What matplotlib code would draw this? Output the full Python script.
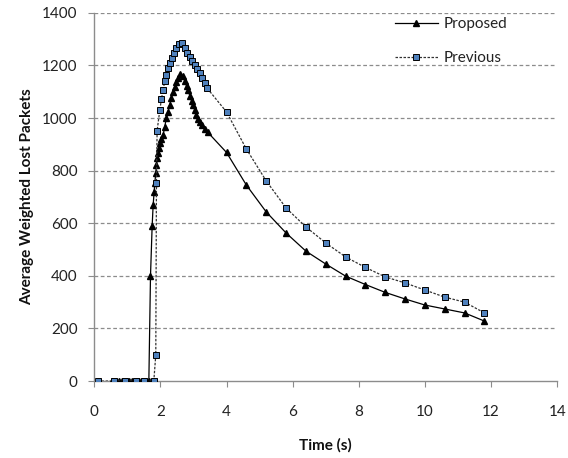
import matplotlib
matplotlib.use("Agg")
import matplotlib.pyplot as plt

plt.rcParams['font.family'] = ['Lato', 'DejaVu Sans']

# Proposed scheme
prop_x = [0.55, 0.65, 0.75, 0.85, 0.95, 1.05, 1.15, 1.25, 1.35, 1.45, 1.55, 1.65,
          1.70, 1.75, 1.78, 1.81, 1.83, 1.86, 1.88, 1.91, 1.93, 1.96, 2.00, 2.03,
          2.08, 2.13, 2.18, 2.23, 2.28, 2.33, 2.38, 2.43, 2.48, 2.53, 2.60, 2.68,
          2.73, 2.79, 2.83, 2.89, 2.94, 2.98, 3.04, 3.09, 3.14, 3.19, 3.26, 3.34,
          3.43, 4.0, 4.6, 5.2, 5.8, 6.4, 7.0, 7.6, 8.2, 8.8, 9.4, 10.0, 10.6, 11.2, 11.8]
prop_y = [0, 0, 0, 0, 0, 0, 0, 0, 0, 0, 0, 0,
          400, 590, 669, 719, 753, 791, 822, 848, 867, 886, 905, 920,
          935, 966, 1000, 1023, 1050, 1076, 1099, 1118, 1137, 1152, 1166, 1160,
          1142, 1122, 1105, 1085, 1065, 1048, 1030, 1013, 998, 985, 972, 960,
          946, 869, 745, 643, 563, 494, 445, 399, 367, 337, 312, 289, 274, 259, 228]

# Previous scheme
prev_x = [0.1, 0.59, 0.92, 1.25, 1.5, 1.8, 1.86, 1.88, 1.90, 1.98, 2.03, 2.08,
          2.13, 2.18, 2.23, 2.28, 2.35, 2.40, 2.48, 2.56, 2.65, 2.73, 2.80, 2.89,
          2.97, 3.04, 3.12, 3.19, 3.27, 3.34, 3.41, 4.0, 4.6, 5.2, 5.8, 6.4, 7.0,
          7.6, 8.2, 8.8, 9.4, 10.0, 10.6, 11.2, 11.8]
prev_y = [0, 0, 0, 0, 0, 0, 100, 754, 952, 1029, 1071, 1107,
          1139, 1164, 1190, 1209, 1228, 1247, 1266, 1281, 1285, 1266, 1248, 1233,
          1218, 1202, 1186, 1171, 1152, 1133, 1114, 1023, 882, 761, 658, 586, 525,
          472, 432, 396, 373, 346, 319, 300, 259]

x_ticks = [0, 2, 4, 6, 8, 10, 12, 14]
y_ticks = [0, 200, 400, 600, 800, 1000, 1200, 1400]

fig = plt.figure(figsize=(5.68, 4.58), dpi=100)
ax = fig.add_axes([0.166, 0.168, 0.815, 0.804])

ax.plot(prop_x, prop_y, color='black', lw=0.9, marker='^', ms=5,
        mfc='black', mec='black', label='Proposed', zorder=3)
ax.plot(prev_x, prev_y, color='#333333', lw=0.9, ls=(0, (2, 1.2)), marker='s', ms=4,
        mfc='#4F81BD', mec='black', mew=0.7, label='Previous', zorder=4)

ax.set_xlim(0, 14)
ax.set_ylim(0, 1400)
ax.set_xticks(x_ticks)
ax.set_yticks(y_ticks)
ax.set_xticklabels([str(t) for t in x_ticks])
ax.set_yticklabels([str(t) for t in y_ticks])

for y in y_ticks[1:]:
    ax.axhline(y, color='#8c8c8c', lw=0.9, ls=(0, (3, 2)), zorder=1)

for s in ['top', 'right']:
    ax.spines[s].set_visible(False)
for s in ['left', 'bottom']:
    ax.spines[s].set_color('#8c8c8c')
    ax.spines[s].set_linewidth(1.0)
ax.spines['left'].set_zorder(5)

ax.tick_params(axis='both', colors='#8c8c8c', labelcolor='#222222', labelsize=11,
               direction='out', length=4)
ax.tick_params(axis='x', pad=13)
ax.tick_params(axis='y', pad=8)

ax.set_xlabel('Time (s)', fontsize=11, fontweight='bold', color='#111111', labelpad=14)
ax.set_ylabel('Average Weighted Lost Packets', fontsize=11, fontweight='bold',
              color='#111111', labelpad=6)

leg = ax.legend(loc='upper left', bbox_to_anchor=(395 / 568, 1 - 17 / 458),
                bbox_transform=fig.transFigure, frameon=False, fontsize=11,
                handlelength=2.8, handletextpad=0.4, labelspacing=1.3,
                borderpad=0, borderaxespad=0, numpoints=1)
for t in leg.get_texts():
    t.set_color('#222222')

fig.savefig('out.png', dpi=100)
